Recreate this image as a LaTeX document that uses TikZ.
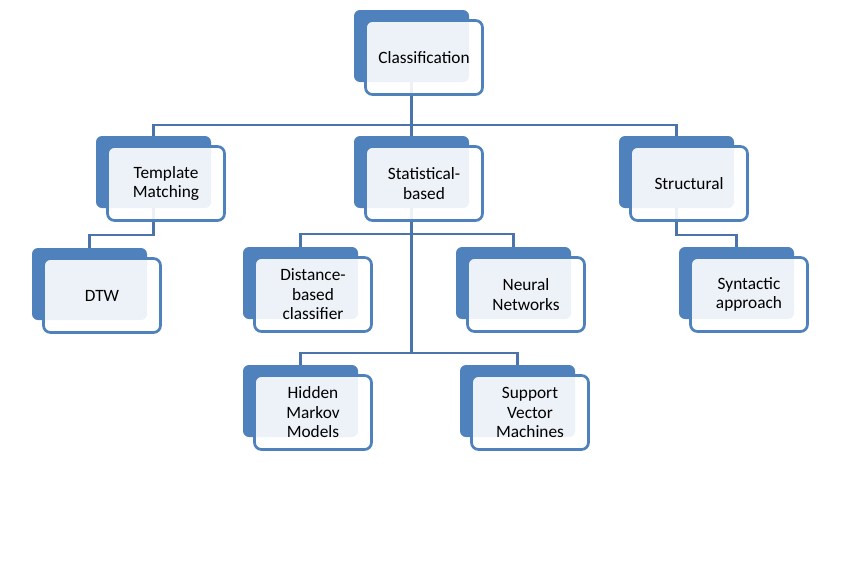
\documentclass[tikz,border=0pt]{standalone}
\usepackage{fontspec}
\setmainfont{Carlito}
\usetikzlibrary{backgrounds}
\definecolor{accent}{HTML}{4F81BD}
\definecolor{connc}{HTML}{4A74AA}
\newcommand\hnode[4]{%
  \node[backbox] (#1-b) at (#2,#3) {};
  \node[frontbox] (#1) at ([xshift=11.5pt,yshift=-10.5pt]#1-b.north west) {#4};}
\begin{document}
\begin{tikzpicture}[x=1pt,y=-1pt,
  backbox/.style={fill=accent, rounded corners=6pt, minimum width=115pt, minimum height=72pt, anchor=north west, inner sep=0pt, outer sep=0pt},
  frontbox/.style={fill=white, fill opacity=0.9, text opacity=1, draw=accent, draw opacity=1, line width=2.7pt, rounded corners=7pt, minimum width=117pt, minimum height=74pt, anchor=north west, align=center, inner sep=0pt, outer sep=0pt, font=\fontsize{17.3pt}{19.5pt}\selectfont},
  conn/.style={draw=connc, line width=2.7pt}]
\useasboundingbox (0,0) rectangle (854,560);
\hnode{cls}{354}{10}{Classification}
\hnode{tm}{96}{136}{Template\\Matching}
\hnode{stat}{354}{136}{Statistical-\\based}
\hnode{struct}{619}{136}{Structural}
\hnode{dtw}{32}{248}{DTW}
\hnode{dist}{243}{247}{Distance-\\based\\classifier}
\hnode{nn}{456}{247}{Neural\\Networks}
\hnode{syn}{679}{247}{Syntactic\\approach}
\hnode{hmm}{243}{365}{Hidden\\Markov\\Models}
\hnode{svm}{460}{365}{Support\\Vector\\Machines}
\begin{scope}[on background layer]
  \draw[conn] (cls-b.south) -- (cls-b.south |- 0,125) -| (tm-b.north);
  \draw[conn] (cls-b.south |- 0,125) -- (stat-b.north);
  \draw[conn] (cls-b.south |- 0,125) -| (struct-b.north);
  \draw[conn] (tm-b.south) -- (tm-b.south |- 0,235) -| (dtw-b.north);
  \draw[conn] (struct-b.south) -- (struct-b.south |- 0,235) -| (syn-b.north);
  \draw[conn] (stat-b.south) -- (stat-b.south |- 0,353);
  \draw[conn] (stat-b.south |- 0,234) -| (dist-b.north);
  \draw[conn] (stat-b.south |- 0,234) -| (nn-b.north);
  \draw[conn] (stat-b.south |- 0,353) -| (hmm-b.north);
  \draw[conn] (stat-b.south |- 0,353) -| (svm-b.north);
\end{scope}
\end{tikzpicture}
\end{document}
